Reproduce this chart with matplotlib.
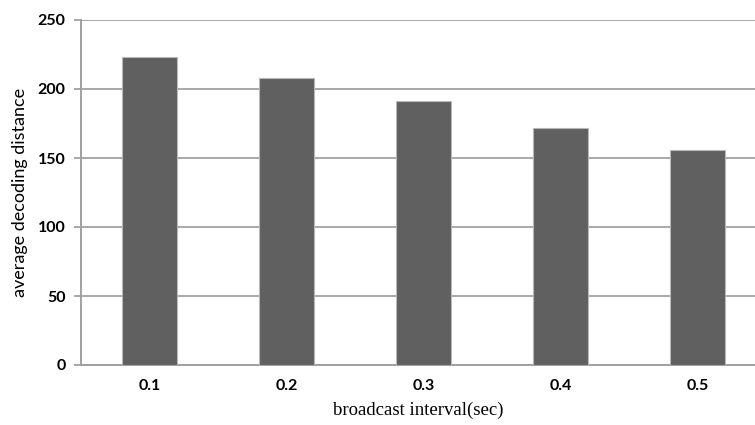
import numpy as np
import matplotlib
matplotlib.use('Agg')
import matplotlib.pyplot as plt

# data
intervals = ['0.1', '0.2', '0.3', '0.4', '0.5']
avg_distance = [223, 208, 191, 172, 156]
y_ticks = [0, 50, 100, 150, 200, 250]

fig = plt.figure(figsize=(7.55, 4.25), dpi=100)
# axes runs out past the right edge, like the original
ax = fig.add_axes([81/755, 60/425, 674/755, 345/425])

x = np.arange(len(intervals))
ax.bar(x, avg_distance, width=0.4, color='#606060', edgecolor='#b8b8b8',
       linewidth=0.8, zorder=3)

ax.set_xlim(-0.5, 674/137 - 0.5)
ax.set_ylim(0, 250)
ax.set_yticks(y_ticks)
ax.set_xticks(x)
ax.set_xticklabels(intervals)

ax.grid(axis='y', color='#a8a8a8', linewidth=1.4, zorder=0)
for s in ['top', 'right']:
    ax.spines[s].set_visible(False)
for s in ['left', 'bottom']:
    ax.spines[s].set_color('#a0a0a0')
    ax.spines[s].set_linewidth(1.4)

ax.tick_params(axis='x', length=0, pad=10)
ax.tick_params(axis='y', length=5, color='#a8a8a8', width=1.4, pad=6, direction='out')
for lab in ax.get_xticklabels() + ax.get_yticklabels():
    lab.set_fontfamily('Lato')
    lab.set_fontweight('bold')
    lab.set_fontsize(11.5)

ax.set_ylabel('average decoding distance', fontfamily='Lato', fontsize=13, labelpad=7)
ax.set_xlabel('broadcast interval(sec)', fontfamily='Liberation Serif', fontsize=13.5, labelpad=6)

plt.savefig('out.png', dpi=100)
